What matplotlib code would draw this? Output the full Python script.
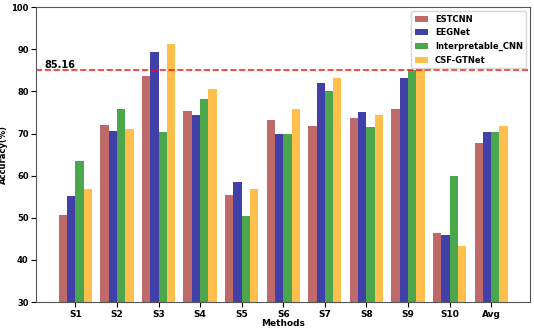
import matplotlib
matplotlib.use("Agg")
import matplotlib.pyplot as plt
import numpy as np

subjects = ['S1', 'S2', 'S3', 'S4', 'S5', 'S6', 'S7', 'S8', 'S9', 'S10', 'Avg']
estcnn = [50.7, 72.1, 83.6, 75.3, 55.5, 73.2, 71.8, 73.6, 75.9, 46.4, 67.8]
eegnet = [55.1, 70.5, 89.3, 74.5, 58.5, 69.8, 82.0, 75.2, 83.2, 45.8, 70.4]
interp_cnn = [63.4, 75.9, 70.3, 78.2, 50.4, 70.0, 80.0, 71.6, 85.2, 60.0, 70.4]
csf_gtnet = [56.8, 71.0, 91.2, 80.6, 56.8, 75.8, 83.2, 74.4, 85.3, 43.4, 71.8]
ref_line = 85.16

plt.rcParams['font.weight'] = 'bold'
fig, ax = plt.subplots(figsize=(5.34, 3.29), dpi=100)

x = np.arange(len(subjects))
w = 0.2
ax.bar(x - 1.5 * w, estcnn, w, color='brown', alpha=0.7, label='ESTCNN')
ax.bar(x - 0.5 * w, eegnet, w, color='darkblue', alpha=0.75, label='EEGNet')
ax.bar(x + 0.5 * w, interp_cnn, w, color='green', alpha=0.7, label='Interpretable_CNN')
ax.bar(x + 1.5 * w, csf_gtnet, w, color='orange', alpha=0.7, label='CSF-GTNet')

ax.axhline(ref_line, color='red', linestyle='--', linewidth=1.2, alpha=0.85)
ax.text(-0.75, ref_line + 0.4, '%.2f' % ref_line, fontsize=7, fontweight='bold')

ax.set_ylim(30, 100)
ax.set_xticks(x)
ax.set_xticklabels(subjects, fontsize=6.5, fontweight='bold')
ax.tick_params(axis='y', labelsize=6, pad=2)
ax.tick_params(axis='x', pad=2)
ax.set_xlabel('Methods', fontsize=6.5, fontweight='bold', labelpad=0)
ax.set_ylabel('Accuracy(%)', fontsize=6, fontweight='bold')
ax.yaxis.set_label_coords(-0.058, 0.5)
for s in ax.spines.values():
    s.set_color('#555555')

ax.legend(loc='upper right', prop={'weight': 'bold', 'size': 6},
          handlelength=1.6, labelspacing=0.55)

plt.subplots_adjust(left=0.068, right=0.993, top=0.978, bottom=0.082)
plt.savefig('out.png')
